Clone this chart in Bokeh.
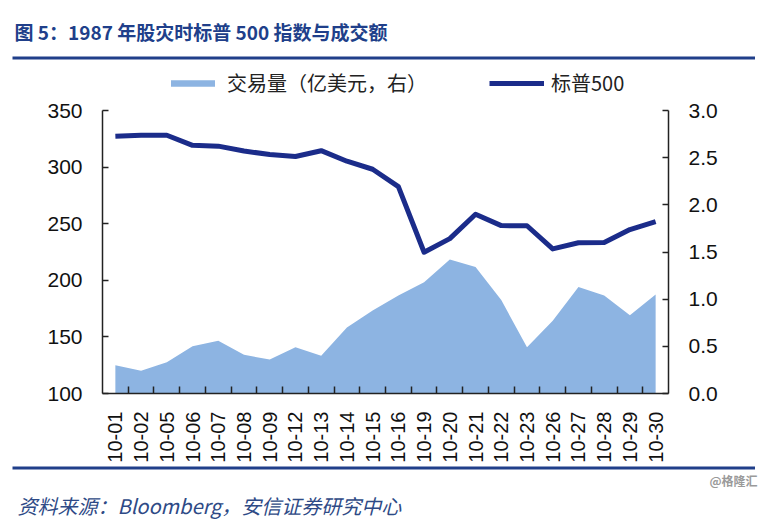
import numpy as np
from bokeh.plotting import figure
from bokeh.models import (Range1d, LinearAxis, FixedTicker, Title,
                          Legend, LegendItem, NumeralTickFormatter)
from bokeh.embed import file_html
from bokeh.resources import INLINE

dates = ["10-01", "10-02", "10-05", "10-06", "10-07", "10-08", "10-09", "10-12",
         "10-13", "10-14", "10-15", "10-16", "10-19", "10-20", "10-21", "10-22",
         "10-23", "10-26", "10-27", "10-28", "10-29", "10-30"]
sp500 = [327.3, 328.1, 328.1, 319.2, 318.5, 314.2, 311.1, 309.4, 314.5, 305.2, 298.1,
         282.7, 224.8, 236.8, 258.4, 248.3, 248.2, 227.7, 233.2, 233.3, 244.8, 251.8]
volume = [0.30, 0.24, 0.33, 0.50, 0.56, 0.41, 0.36, 0.49, 0.40, 0.70, 0.88,
          1.04, 1.18, 1.42, 1.34, 0.99, 0.49, 0.77, 1.13, 1.04, 0.83, 1.05]
left_ticks = [100, 150, 200, 250, 300, 350]
right_ticks = [0.0, 0.5, 1.0, 1.5, 2.0, 2.5, 3.0]
left_lo, left_hi = 100, 350
right_lo, right_hi = 0.0, 3.0

title_text = "图 5：1987 年股灾时标普 500 指数与成交额"
source_text = "资料来源：Bloomberg，安信证券研究中心"
watermark = "@格隆汇"
vol_label = "交易量（亿美元，右）"
sp_label = "标普500"

AREA = "#8DB4E2"
LINE = "#1B2C8A"
NAVY = "#203F8A"
W, H = 762, 527
FL, FR, FB = 102, 668, 393   # frame edges on the page
AXIS_TOP = 110                # where the top tick (350 / 3.0) sits
FT = 61                       # frame top (the legend lives inside the frame)
RULE_L, RULE_R = 12, 755      # horizontal extent of the two navy rules
RULE_FONT = 2.5               # px; the rule is a run of em spaces on a filled background

# extend the value ranges upward so the legend fits inside the frame
ext = (FB - FT) / (FB - AXIS_TOP)
y_hi = left_lo + (left_hi - left_lo) * ext
r_hi = right_lo + (right_hi - right_lo) * ext

x = list(range(len(dates)))
p = figure(width=W, height=H, output_backend="svg", toolbar_location=None,
           x_range=Range1d(-0.5, len(dates) - 0.5), y_range=Range1d(left_lo, y_hi),
           min_border_left=FL, min_border_right=W - FR, min_border_top=FT,
           min_border_bottom=H - FB)
p.extra_y_ranges = {"vol": Range1d(right_lo, r_hi)}
p.xgrid.visible = False
p.ygrid.visible = False
p.outline_line_color = None
p.background_fill_color = "white"
p.border_fill_color = "white"

area = p.varea(x=x, y1=0, y2=volume, y_range_name="vol", fill_color=AREA)
line = p.line(x, sp500, line_color=LINE, line_width=5, line_join="round")

xa = p.xaxis[0]
xa.ticker = FixedTicker(ticks=x, minor_ticks=[i + 0.5 for i in range(len(dates) - 1)])
xa.major_label_overrides = {i: d for i, d in enumerate(dates)}
xa.major_tick_line_color = None
xa.minor_tick_in = 7
xa.minor_tick_out = 0
xa.minor_tick_line_color = "#222222"
xa.minor_tick_line_width = 1.5
xa.axis_line_color = "#222222"
xa.axis_line_width = 1.5
xa.major_label_orientation = np.pi / 2
xa.major_label_standoff = 12
xa.major_label_text_font = "Liberation Sans"
xa.major_label_text_font_size = "20px"
xa.major_label_text_color = "#111111"

ya = p.yaxis[0]
ya.ticker = FixedTicker(ticks=left_ticks)
ya.bounds = (left_lo, left_hi)
ya.major_tick_in = 6
ya.major_tick_out = 0
ya.minor_tick_line_color = None
ya.major_tick_line_color = "#222222"
ya.major_tick_line_width = 1.5
ya.axis_line_color = "#222222"
ya.axis_line_width = 1.5
ya.major_label_standoff = 20
ya.major_label_text_font = "Liberation Sans"
ya.major_label_text_font_size = "21px"
ya.major_label_text_color = "#111111"

ra = LinearAxis(y_range_name="vol", ticker=FixedTicker(ticks=right_ticks),
                formatter=NumeralTickFormatter(format="0.0"), bounds=(right_lo, right_hi))
ra.major_tick_in = 6
ra.major_tick_out = 0
ra.minor_tick_line_color = None
ra.major_tick_line_color = "#222222"
ra.major_tick_line_width = 1.5
ra.axis_line_color = "#222222"
ra.axis_line_width = 1.5
ra.major_label_standoff = 20
ra.major_label_text_font = "Liberation Sans"
ra.major_label_text_font_size = "21px"
ra.major_label_text_color = "#111111"
p.add_layout(ra, "right")

legend = Legend(items=[LegendItem(label=vol_label, renderers=[area]),
                       LegendItem(label=sp_label, renderers=[line])],
                orientation="horizontal", location=(63, FB - 97),
                border_line_color=None, background_fill_alpha=0,
                glyph_width=55, glyph_height=8, label_standoff=7, spacing=62,
                padding=0, margin=0, label_height=20,
                label_text_font="Noto Sans CJK SC", label_text_font_size="20px",
                label_text_color="#222222")
p.add_layout(legend)


def rule(gap):
    n = int(round((RULE_R - RULE_L) / RULE_FONT))
    return Title(text="\u2003" * n, text_font="Liberation Sans",
                 text_font_size=f"{RULE_FONT}px", text_color=NAVY, standoff=gap,
                 vertical_align="middle", align="left", offset=RULE_L - FL,
                 background_fill_color=NAVY, background_fill_alpha=1)


# ---- above the frame (first added sits nearest the frame) ----
p.add_layout(rule(2), "above")
p.add_layout(Title(text=title_text, align="left", offset=14 - FL, vertical_align="middle",
                   standoff=18, text_font="Noto Sans CJK SC", text_font_style="bold",
                   text_font_size="19px", text_color=NAVY), "above")

# ---- below the frame ----
p.add_layout(rule(0), "below")
p.add_layout(Title(text=watermark, align="right", offset=FR - 757, vertical_align="middle",
                   standoff=0, text_font="Noto Sans CJK SC", text_font_size="12px",
                   text_color="#9A9A9A"), "below")
p.add_layout(Title(text=source_text, align="left", offset=17 - FL, vertical_align="middle",
                   standoff=0, text_font="Noto Sans CJK SC", text_font_style="italic",
                   text_font_size="20px", text_color="#2E4A86"), "below")

open("out.html", "w").write(file_html(p, INLINE))
